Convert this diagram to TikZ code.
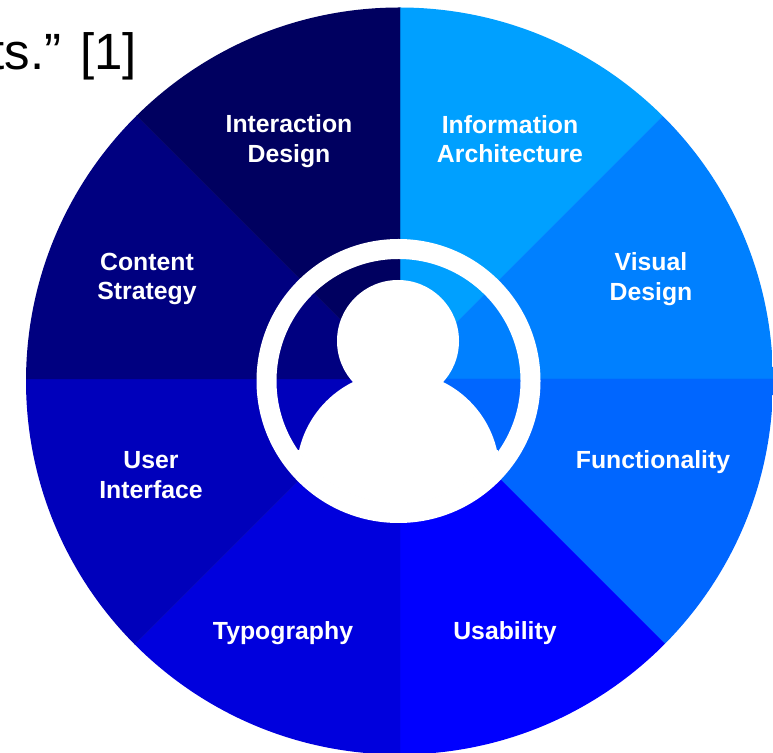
\documentclass[tikz,border=0pt]{standalone}
\usepackage{fontspec}
\setmainfont{Liberation Sans}
\definecolor{s1}{HTML}{00A0FF}
\definecolor{s2}{HTML}{0080FF}
\definecolor{s3}{HTML}{0066FF}
\definecolor{s4}{HTML}{0000FF}
\definecolor{s5}{HTML}{0000DD}
\definecolor{s6}{HTML}{0000BB}
\definecolor{s7}{HTML}{000080}
\definecolor{s8}{HTML}{000060}
\tikzset{
  seglabel/.style={text=white,font=\fontsize{24.8}{29.5}\selectfont\bfseries,align=center,inner sep=0pt},
  quote/.style={text=black,font=\fontsize{51}{60}\selectfont,inner sep=0pt,anchor=base east}
}
\newcommand{\sector}[3]{\fill[#3,draw=#3,line width=0.3pt] (400,373) -- ++(#1:560) arc[start angle=#1,end angle=#2,radius=560] -- cycle;}
\begin{document}
\begin{tikzpicture}[x=1pt,y=1pt]
\useasboundingbox (0,0) rectangle (773,752);
\clip (0,0) rectangle (773,752);
\fill[white] (0,0) rectangle (773,752);
\begin{scope}
\clip (399.5,371) circle[radius=373.5];
\sector{90}{45}{s1}
\sector{45}{0}{s2}
\sector{0}{-45}{s3}
\sector{-45}{-90}{s4}
\sector{-90}{-135}{s5}
\sector{-135}{-180}{s6}
\sector{180}{135}{s7}
\sector{135}{90}{s8}
\end{scope}
\draw[white,line width=20pt] (398.5,371) circle[radius=132];
\fill[white] (398,411) circle[radius=61];
\begin{scope}
\clip (398.5,371) circle[radius=122.5];
\fill[white] (398,279) circle[radius=101.5];
\fill[white] (298,200) rectangle (498,302);
\end{scope}
\node[quote] (q) at (137,682) {ts.” [1]};
\node[seglabel] (ia) at (510,613) {Information\\Architecture};
\node[seglabel] (vd) at (651,473) {Visual\\Design};
\node[seglabel] (fn) at (653,290) {Functionality};
\node[seglabel] (us) at (505,118.5) {Usability};
\node[seglabel] (ty) at (283,118.5) {Typography};
\node[seglabel] (ui) at (151,277) {User\\Interface};
\node[seglabel] (cs) at (147,473) {Content\\Strategy};
\node[seglabel] (id) at (289,611) {Interaction\\Design};
\end{tikzpicture}
\end{document}
